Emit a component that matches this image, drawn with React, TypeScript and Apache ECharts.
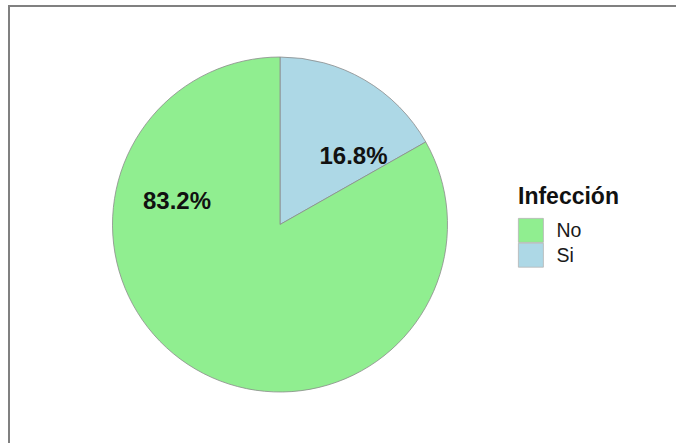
import React, { useEffect, useRef } from "react";
import * as echarts from "echarts";

const categories = ["Si", "No"];
const values = [16.8, 83.2];
const colors = ["#ADD8E6", "#90EE90"];
const legendOrder = ["No", "Si"];
const legendTitle = "Infección";

const FONT = "'Liberation Sans', Arial, sans-serif";

export default function App() {
  const ref = useRef<HTMLDivElement>(null);
  useEffect(() => {
    if (!ref.current) return;
    const chart = echarts.init(ref.current, null, { renderer: "svg" });
    const labelPos: Record<string, [number, number]> = {
      No: [177, 212],
      Si: [353.5, 167],
    };
    chart.setOption({
      animation: false,
      backgroundColor: "#ffffff",
      legend: {
        data: legendOrder,
        orient: "vertical",
        left: 518,
        top: 218,
        padding: 0,
        itemWidth: 25,
        itemHeight: 24,
        itemGap: 0,
        icon: "rect",
        selectedMode: false,
        itemStyle: { borderColor: "#b5b5b5", borderWidth: 0.8 },
        textStyle: {
          fontFamily: FONT,
          fontSize: 19.5,
          color: "#1a1a1a",
          padding: [0, 0, 0, 8],
        },
      },
      series: [
        {
          type: "pie",
          center: [280, 224.5],
          radius: [0, 167.5],
          startAngle: 90,
          clockwise: true,
          label: { show: false },
          labelLine: { show: false },
          emphasis: { disabled: true },
          itemStyle: { borderColor: "#8c8c8c", borderWidth: 0.8 },
          data: categories.map((c, i) => ({
            name: c,
            value: values[i],
            itemStyle: { color: colors[i] },
          })),
        },
      ],
      graphic: [
        {
          type: "line",
          shape: { x1: 9, y1: 6, x2: 676, y2: 6 },
          style: { stroke: "#808080", lineWidth: 2 },
        },
        {
          type: "line",
          shape: { x1: 9, y1: 5, x2: 9, y2: 443 },
          style: { stroke: "#808080", lineWidth: 2 },
        },
        {
          type: "text",
          x: 518,
          y: 207,
          style: {
            text: legendTitle,
            fontFamily: FONT,
            fontWeight: "bold",
            fontSize: 23,
            fill: "#111",
            textAlign: "left",
            textVerticalAlign: "bottom",
            verticalAlign: "bottom",
          },
        },
        ...categories.map((c, i) => ({
          type: "text",
          x: labelPos[c][0],
          y: labelPos[c][1],
          z: 10,
          style: {
            text: values[i].toFixed(1) + "%",
            fontFamily: FONT,
            fontWeight: "bold",
            fontSize: 24,
            fill: "#111",
            textAlign: "center",
            textVerticalAlign: "bottom",
            verticalAlign: "bottom",
          },
        })),
      ],
    });
    return () => chart.dispose();
  }, []);
  return (
    <div
      ref={ref}
      style={{ position: "fixed", left: 0, top: 0, width: 676, height: 443 }}
    />
  );
}
